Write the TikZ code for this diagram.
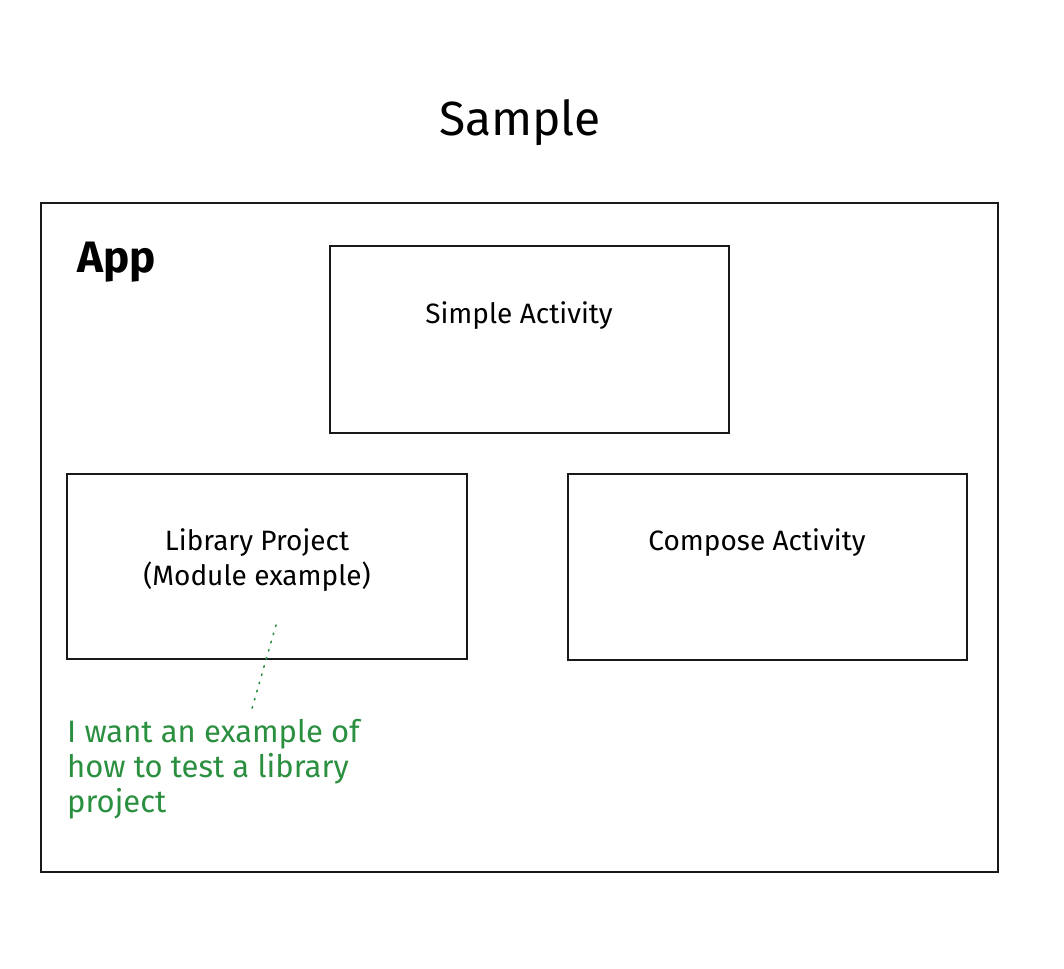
\documentclass[tikz,border=0pt]{standalone}
\usepackage{fontspec}
\setmainfont{Fira Sans}
\definecolor{notegreen}{HTML}{2B8F40}
\begin{document}
\begin{tikzpicture}[x=1pt,y=-1pt,
  box/.style={draw=black!90, line width=1.6pt, inner sep=0pt},
  lbl/.style={font=\fontsize{28}{35}\selectfont, align=center, inner sep=0pt, anchor=base},
  note/.style={font=\fontsize{31}{35}\selectfont, text=notegreen, align=left, inner sep=0pt}]
  \useasboundingbox (0,0) rectangle (1064,968);
  % title
  \node[font=\fontsize{48}{52}\selectfont, anchor=base, inner sep=0pt] (title) at (520,136) {Sample};
  % outer application frame
  \node[box, minimum width=957pt, minimum height=669pt] (app) at (519.5,537.5) {};
  \node[font=\fontsize{44}{48}\selectfont\bfseries, anchor=base west, inner sep=0pt] (applbl) at (77,272) {App};
  % inner boxes
  \node[box, minimum width=399pt, minimum height=187pt] (simple) at (529.5,339.5) {};
  \node[lbl] (simplelbl) at (519,323) {Simple Activity};
  \node[box, minimum width=400pt, minimum height=185pt] (library) at (267,566.5) {};
  % multi-line labels sit on the baseline of their last line
  \node[lbl] (librarylbl) at (257,585) {Library Project\\(Module example)};
  \node[box, minimum width=399pt, minimum height=186pt] (compose) at (767.5,567) {};
  \node[lbl] (composelbl) at (757,550) {Compose Activity};
  % annotation
  \node[note, anchor=base west] (notetxt) at (67,812) {I want an example of\\how to test a library\\project};
  \coordinate (pin) at (276,625);
  \coordinate (pinend) at (251,712);
  \draw[notegreen, line width=1.6pt, dash pattern=on 1.5pt off 7pt, line cap=round] (pin) -- (pinend);
\end{tikzpicture}
\end{document}
